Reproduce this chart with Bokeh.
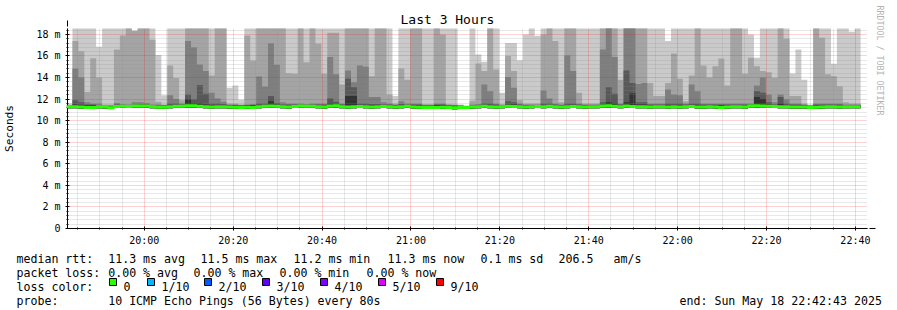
import math
from bokeh.plotting import figure
from bokeh.models import Range1d, FixedTicker, Arrow, NormalHead, Title
from bokeh.layouts import column
from bokeh.embed import file_html
from bokeh.resources import INLINE
from bokeh.core.properties import value

# ---------------- data ----------------
# 80 s bins, first bin starts 19:42:30 (minutes after midnight)
bin_start = 19 * 60 + 42 + 30 / 60
bin_minutes = 80 / 60
view_start = 19 * 60 + 42 + 43 / 60   # 22:42:43 minus 3 hours
view_minutes = 180
y_max = 18.55  # ms shown at the top of the graph

# smoke: upper edges of the 5 bands (ping10, ping9, ping8, ping7, ping6), in ms;
# 19.0 = above the top of the graph
ping10 = [11.6, 19, 19, 19, 19, 16.85, 19, 19, 19, 19,
          19, 18.35, 19, 19, 19, 16.1, 12.35, 19, 19, 19,
          19, 19, 19, 19, 19, 19, 19, 13.05, 13.27, 11.94,
          19, 19, 19, 19, 19, 19, 19, 19, 19, 19,
          19, 19, 19, 19, 19, 19, 19, 19, 19, 19,
          19, 19, 19, 19, 19, 12.3, 19, 19, 19, 19,
          19, 19, 19, 19, 19, 19, 11.5, 11.4, 19, 16.14,
          15.46, 19, 19, 12.6, 17.2, 17.2, 15.6, 18.0, 19, 17.85,
          19, 19, 19, 19, 19, 19, 19, 19, 19, 19,
          19, 19, 19, 19, 19, 19, 19, 19, 19, 19,
          19, 17.38, 19, 19, 19, 19, 19, 19, 19, 19,
          19, 19, 19, 19, 19, 18.0, 15.83, 19, 19, 19,
          19, 19, 14.38, 16.6, 13.8, 11.5, 19, 19, 19, 15.27,
          19, 19, 18.25, 19]
ping9 = [11.45, 17.4, 16.45, 12.65, 15.8, 14.0, 11.5, 11.5, 16.6, 17.9,
         19, 18.35, 19, 19, 17.5, 11.75, 11.5, 15.12, 13.95, 11.9,
         19, 19, 19, 19, 14.2, 19, 19, 11.6, 11.6, 11.5,
         17.9, 15.58, 19, 19, 19, 19, 19, 14.4, 14.35, 19,
         15.43, 19, 17.16, 14.35, 18.15, 18.15, 13.36, 19, 19, 19,
         19, 14.13, 19, 19, 12.43, 11.6, 14.85, 13.8, 19, 19,
         11.55, 11.55, 19, 18.0, 11.55, 11.5, 11.45, 11.35, 11.85, 15.3,
         14.6, 19, 14.75, 11.55, 16.0, 14.6, 11.9, 11.6, 11.6, 11.6,
         18.0, 19, 17.38, 11.7, 19, 19, 12.6, 11.6, 11.6, 11.6,
         19, 19, 19, 13.8, 19, 19, 19, 19, 13.5, 12.3,
         12.3, 13.5, 16.23, 13.9, 11.8, 14.2, 19, 15.12, 14.0, 15.06,
         15.77, 13.27, 19, 19, 14.35, 15.83, 15.06, 14.6, 14.5, 13.98,
         19, 17.6, 12.3, 12.3, 11.6, 11.45, 19, 17.7, 14.3, 14.13,
         13.2, 11.7, 11.6, 11.6]
ping8 = [11.4, 14.85, 14.0, 11.7, 11.6, 11.6, 11.4, 11.4, 11.65, 11.55,
         11.5, 11.7, 11.7, 11.65, 11.5, 11.5, 11.45, 12.35, 12.0, 11.6,
         17.38, 16.82, 15.2, 14.6, 12.6, 12.06, 11.75, 11.5, 11.5, 11.45,
         11.5, 11.55, 14.1, 13.17, 17.19, 15.18, 11.7, 11.6, 11.6, 11.6,
         11.55, 11.6, 11.6, 11.6, 15.9, 14.3, 11.6, 14.66, 13.57, 15.12,
         15.0, 12.2, 12.2, 11.7, 11.6, 11.5, 11.8, 11.6, 11.6, 11.6,
         11.45, 11.45, 11.6, 11.6, 11.45, 11.45, 11.4, 11.3, 11.5, 11.55,
         13.36, 12.74, 11.6, 11.45, 14.04, 13.05, 11.6, 11.5, 11.5, 11.5,
         12.8, 12.06, 11.6, 11.5, 16.05, 14.6, 11.6, 11.5, 11.5, 11.5,
         16.6, 19, 15.9, 11.6, 19, 19, 13.4, 13.5, 11.6, 11.6,
         11.6, 12.9, 12.43, 12.35, 11.6, 13.36, 12.74, 11.6, 11.6, 11.6,
         11.6, 11.6, 11.6, 11.6, 11.6, 11.6, 13.27, 14.0, 12.43, 11.7,
         12.43, 11.97, 11.6, 11.6, 11.5, 11.4, 11.6, 11.6, 11.6, 11.6,
         11.6, 11.5, 11.5, 11.5]
ping7 = [11.35, 11.9, 11.7, 11.5, 11.5, 11.45, 11.35, 11.35, 11.5, 11.45,
         11.45, 11.5, 11.55, 11.55, 11.4, 11.4, 11.4, 11.6, 11.6, 11.5,
         12.43, 11.97, 13.3, 12.5, 11.6, 11.6, 11.55, 11.45, 11.45, 11.4,
         11.45, 11.45, 11.6, 11.6, 12.3, 11.65, 11.5, 11.5, 11.5, 11.5,
         11.45, 11.5, 11.5, 11.5, 12.06, 11.75, 11.5, 13.9, 13.1, 11.6,
         11.6, 11.55, 11.55, 11.5, 11.5, 11.45, 11.55, 11.5, 11.5, 11.5,
         11.4, 11.4, 11.5, 11.5, 11.4, 11.4, 11.35, 11.3, 11.4, 11.45,
         11.6, 11.6, 11.5, 11.4, 11.8, 11.7, 11.5, 11.45, 11.45, 11.45,
         11.6, 11.6, 11.5, 11.45, 11.6, 11.6, 11.5, 11.45, 11.45, 11.45,
         11.7, 13.1, 12.5, 11.5, 14.66, 13.5, 11.7, 11.7, 11.5, 11.5,
         11.5, 11.6, 11.6, 11.6, 11.5, 11.6, 11.6, 11.5, 11.5, 11.5,
         11.5, 11.5, 11.5, 11.5, 11.5, 11.5, 12.74, 12.6, 11.7, 11.5,
         12.2, 11.6, 11.5, 11.5, 11.45, 11.35, 11.5, 11.5, 11.5, 11.5,
         11.5, 11.45, 11.45, 11.45]
ping6 = [11.3, 11.5, 11.45, 11.4, 11.4, 11.35, 11.3, 11.3, 11.4, 11.35,
         11.4, 11.45, 11.45, 11.45, 11.35, 11.35, 11.35, 11.45, 11.45, 11.4,
         11.97, 11.6, 11.6, 11.5, 11.45, 11.45, 11.45, 11.4, 11.4, 11.35,
         11.4, 11.4, 11.45, 11.45, 11.8, 11.5, 11.4, 11.4, 11.4, 11.4,
         11.4, 11.4, 11.4, 11.4, 11.6, 11.5, 11.4, 12.3, 12.3, 11.45,
         11.45, 11.45, 11.45, 11.4, 11.4, 11.4, 11.45, 11.4, 11.4, 11.4,
         11.35, 11.35, 11.4, 11.4, 11.35, 11.35, 11.3, 11.25, 11.35, 11.4,
         11.45, 11.45, 11.4, 11.35, 11.5, 11.5, 11.4, 11.4, 11.4, 11.4,
         11.45, 11.45, 11.4, 11.4, 11.45, 11.45, 11.4, 11.4, 11.4, 11.4,
         11.5, 11.7, 11.6, 11.4, 11.7, 12.55, 11.5, 11.5, 11.4, 11.4,
         11.4, 11.45, 11.45, 11.45, 11.4, 11.45, 11.45, 11.4, 11.4, 11.4,
         11.4, 11.4, 11.4, 11.4, 11.4, 11.4, 12.2, 12.0, 11.5, 11.4,
         11.6, 11.45, 11.4, 11.4, 11.4, 11.3, 11.4, 11.4, 11.4, 11.4,
         11.4, 11.4, 11.4, 11.4]
# fastest ping of each bin (lower edge of the smoke)
ping1 = [11.15, 11.16, 11.14, 11.10, 11.10, 11.16, 11.14, 11.08, 11.18, 11.18,
         11.18, 11.22, 11.22, 11.20, 11.16, 11.10, 11.10, 11.16, 11.20, 11.18,
         11.22, 11.22, 11.20, 11.16, 11.14, 11.16, 11.16, 11.14, 11.10, 11.08,
         11.10, 11.08, 11.16, 11.20, 11.22, 11.18, 11.16, 11.14, 11.18, 11.22,
         11.20, 11.18, 11.16, 11.14, 11.22, 11.22, 11.16, 11.12, 11.16, 11.18,
         11.16, 11.12, 11.16, 11.18, 11.16, 11.12, 11.16, 11.18, 11.14, 11.10,
         11.08, 11.08, 11.08, 11.10, 11.08, 11.06, 11.08, 11.08, 11.14, 11.16,
         11.20, 11.16, 11.14, 11.16, 11.20, 11.18, 11.16, 11.14, 11.16, 11.18,
         11.16, 11.20, 11.16, 11.14, 11.16, 11.18, 11.16, 11.14, 11.16, 11.16,
         11.22, 11.22, 11.20, 11.16, 11.22, 11.18, 11.16, 11.16, 11.14, 11.16,
         11.16, 11.14, 11.16, 11.12, 11.16, 11.18, 11.14, 11.12, 11.16, 11.14,
         11.08, 11.12, 11.16, 11.16, 11.14, 11.22, 11.22, 11.22, 11.20, 11.18,
         11.16, 11.16, 11.14, 11.12, 11.12, 11.08, 11.10, 11.12, 11.16, 11.16,
         11.14, 11.16, 11.16, 11.16]
median = [11.29, 11.30, 11.28, 11.22, 11.22, 11.30, 11.28, 11.20, 11.32, 11.33,
          11.32, 11.36, 11.37, 11.36, 11.30, 11.24, 11.24, 11.30, 11.35, 11.33,
          11.38, 11.38, 11.34, 11.30, 11.28, 11.30, 11.30, 11.28, 11.24, 11.22,
          11.24, 11.22, 11.30, 11.34, 11.36, 11.33, 11.30, 11.28, 11.32, 11.36,
          11.35, 11.33, 11.30, 11.28, 11.36, 11.38, 11.30, 11.27, 11.30, 11.32,
          11.30, 11.26, 11.30, 11.32, 11.30, 11.26, 11.30, 11.33, 11.28, 11.24,
          11.22, 11.22, 11.22, 11.25, 11.22, 11.20, 11.22, 11.22, 11.28, 11.30,
          11.34, 11.30, 11.28, 11.30, 11.35, 11.32, 11.30, 11.28, 11.30, 11.32,
          11.30, 11.34, 11.30, 11.28, 11.30, 11.32, 11.30, 11.28, 11.30, 11.30,
          11.36, 11.38, 11.34, 11.30, 11.36, 11.32, 11.30, 11.30, 11.28, 11.30,
          11.30, 11.28, 11.30, 11.26, 11.30, 11.32, 11.28, 11.26, 11.30, 11.28,
          11.22, 11.26, 11.30, 11.30, 11.28, 11.36, 11.38, 11.36, 11.34, 11.32,
          11.30, 11.30, 11.28, 11.26, 11.26, 11.22, 11.24, 11.26, 11.30, 11.30,
          11.28, 11.30, 11.30, 11.30]

smoke_colors = ["#cacaca", "#a4a4a4", "#7e7e7e", "#585858", "#323232"]
median_color = "#26ff00"

x_tick_labels = ["20:00", "20:20", "20:40", "21:00", "21:20", "21:40", "22:00", "22:20", "22:40"]
y_tick_values = [0, 2, 4, 6, 8, 10, 12, 14, 16, 18]
y_tick_labels = ["0", "2 m", "4 m", "6 m", "8 m", "10 m", "12 m", "14 m", "16 m", "18 m"]

loss_labels = ["0", "1/10", "2/10", "3/10", "4/10", "5/10", "9/10"]
loss_colors = ["#26ff00", "#00b8ff", "#0059ff", "#5e00ff", "#7e00ff", "#dd00ff", "#ff0000"]

legend_rows = [
    [("median rtt:", 16), ("11.3 ms avg", 107.7), ("11.5 ms max", 200), ("11.2 ms min", 293),
     ("11.3 ms now", 387), ("0.1 ms sd", 480), ("206.5", 558), ("am/s", 613)],
    [("packet loss:", 16), ("0.00 % avg", 107.7), ("0.00 % max", 193), ("0.00 % min", 279),
     ("0.00 % now", 366)],
    [("loss color:", 16)],
    [("probe:", 16), ("10 ICMP Echo Pings (56 Bytes) every 80s", 107.7),
     ("end: Sun May 18 22:42:43 2025", 679)],
]

# ---------------- layout constants ----------------
W, H_MAIN, H_LEG = 897, 252, 58
FL, FR, FT, FB = 67, 30, 28, 24
FW = W - FL - FR
FH = H_MAIN - FT - FB
MONO = "DejaVu Sans Mono"

view_end = view_start + view_minutes


def dx(px):
    return view_start + (px - FL) / FW * view_minutes


def dy(py):
    return y_max * (FT + FH - py) / FH


n = len(median)
edges = [bin_start + i * bin_minutes for i in range(n + 1)]


def ext(a):
    return list(a) + [a[-1]]


p = figure(width=W, height=H_MAIN, output_backend="svg", toolbar_location=None,
           x_range=Range1d(view_start, view_end), y_range=Range1d(0, y_max),
           min_border_left=FL, min_border_right=FR, min_border_top=FT, min_border_bottom=FB)
p.frame_align = False
p.outline_line_color = None
p.background_fill_color = "white"
p.border_fill_color = "white"

for top, col in zip([ping10, ping9, ping8, ping7, ping6], smoke_colors):
    p.varea_step(x=edges, y1=ext(ping1), y2=ext(top), step_mode="after", fill_color=col)

med = p.step(x=edges, y=ext(median), mode="after", line_width=3, line_color=median_color)
med.level = "overlay"

x_major = [1200 + 20 * i for i in range(len(x_tick_labels))]
x_minor = [m for m in range(1185, 1365, 5) if m not in x_major]
y_minor = [round(0.4 * i, 2) for i in range(47) if (i % 5) != 0]

p.xaxis.ticker = FixedTicker(ticks=x_major, minor_ticks=x_minor)
p.xaxis.major_label_overrides = {t: s for t, s in zip(x_major, x_tick_labels)}
p.yaxis.ticker = FixedTicker(ticks=y_tick_values, minor_ticks=y_minor)
p.yaxis.major_label_overrides = {t: s for t, s in zip(y_tick_values, y_tick_labels)}

for ax in (p.xaxis, p.yaxis):
    ax.axis_line_color = "black"
    ax.major_tick_line_color = "black"
    ax.minor_tick_line_color = "black"
    ax.major_tick_in = 2
    ax.major_tick_out = 2
    ax.minor_tick_in = 1
    ax.minor_tick_out = 1
    ax.major_label_text_font = MONO
    ax.major_label_text_font_size = "10px"
    ax.major_label_text_color = "black"
p.xaxis.major_label_standoff = 4
p.yaxis.major_label_standoff = 5
p.yaxis.axis_label = "Seconds"
p.yaxis.axis_label_text_font = MONO
p.yaxis.axis_label_text_font_size = "11.2px"
p.yaxis.axis_label_text_font_style = "normal"
p.yaxis.axis_label_text_color = "black"
p.yaxis.axis_label_standoff = 17

for g in (p.xgrid, p.ygrid):
    g.grid_line_color = "#ff0000"
    g.grid_line_alpha = 0.35
    g.grid_line_dash = "1 1"
    g.minor_grid_line_color = "#8c8c8c"
    g.minor_grid_line_alpha = 0.4
    g.minor_grid_line_dash = "1 1"
    g.level = "annotation"

# axis arrows
p.add_layout(Arrow(end=NormalHead(size=6, fill_color="#800000", line_color="#800000"),
                   x_start=view_start, y_start=0, x_end=view_start, y_end=dy(20),
                   line_color="black", line_width=1))
p.add_layout(Arrow(end=NormalHead(size=6, fill_color="#800000", line_color="#800000"),
                   x_start=view_start, y_start=0, x_end=dx(875), y_end=0,
                   line_color="black", line_width=1))

p.add_layout(Title(text="Last 3 Hours", align="left", offset=400 - FL, standoff=4,
                   text_font=MONO, text_font_size="13px", text_font_style="normal",
                   text_color="black"), "above")
p.add_layout(Title(text="RRDTOOL / TOBI OETIKER", align="left", offset=-23, standoff=14,
                   text_font=MONO, text_font_size="8.3px", text_font_style="normal",
                   text_color="#b4b4b4"), "right")

# ---------------- legend strip ----------------
q = figure(width=W, height=H_LEG, output_backend="svg", toolbar_location=None,
           x_range=Range1d(0, W), y_range=Range1d(H_MAIN + H_LEG, H_MAIN),
           x_axis_location=None, y_axis_location=None, min_border=0)
q.frame_align = False
q.outline_line_color = None
q.grid.visible = False
q.background_fill_color = "white"
q.border_fill_color = "white"

row_baselines = [258, 272, 286, 300]
tx, ty, tt = [], [], []
for base, row in zip(row_baselines, legend_rows):
    for txt, x in row:
        tx.append(x)
        ty.append(base)
        tt.append(txt)
sw_left = [109, 147, 204, 262, 320, 378, 436]
for x, lab in zip(sw_left, loss_labels):
    tx.append(x + 14)
    ty.append(row_baselines[2])
    tt.append(lab)
q.text(x=tx, y=ty, text=tt, text_font=value(MONO), text_font_size=value("11.6px"),
       text_baseline="alphabetic", text_align="left", text_color="black")
q.quad(left=sw_left, right=[s + 7 for s in sw_left], top=[278] * len(sw_left),
       bottom=[285] * len(sw_left), fill_color=loss_colors, line_color="black", line_width=1)

layout = column(p, q, spacing=0)
open("out.html", "w").write(file_html(layout, INLINE))
